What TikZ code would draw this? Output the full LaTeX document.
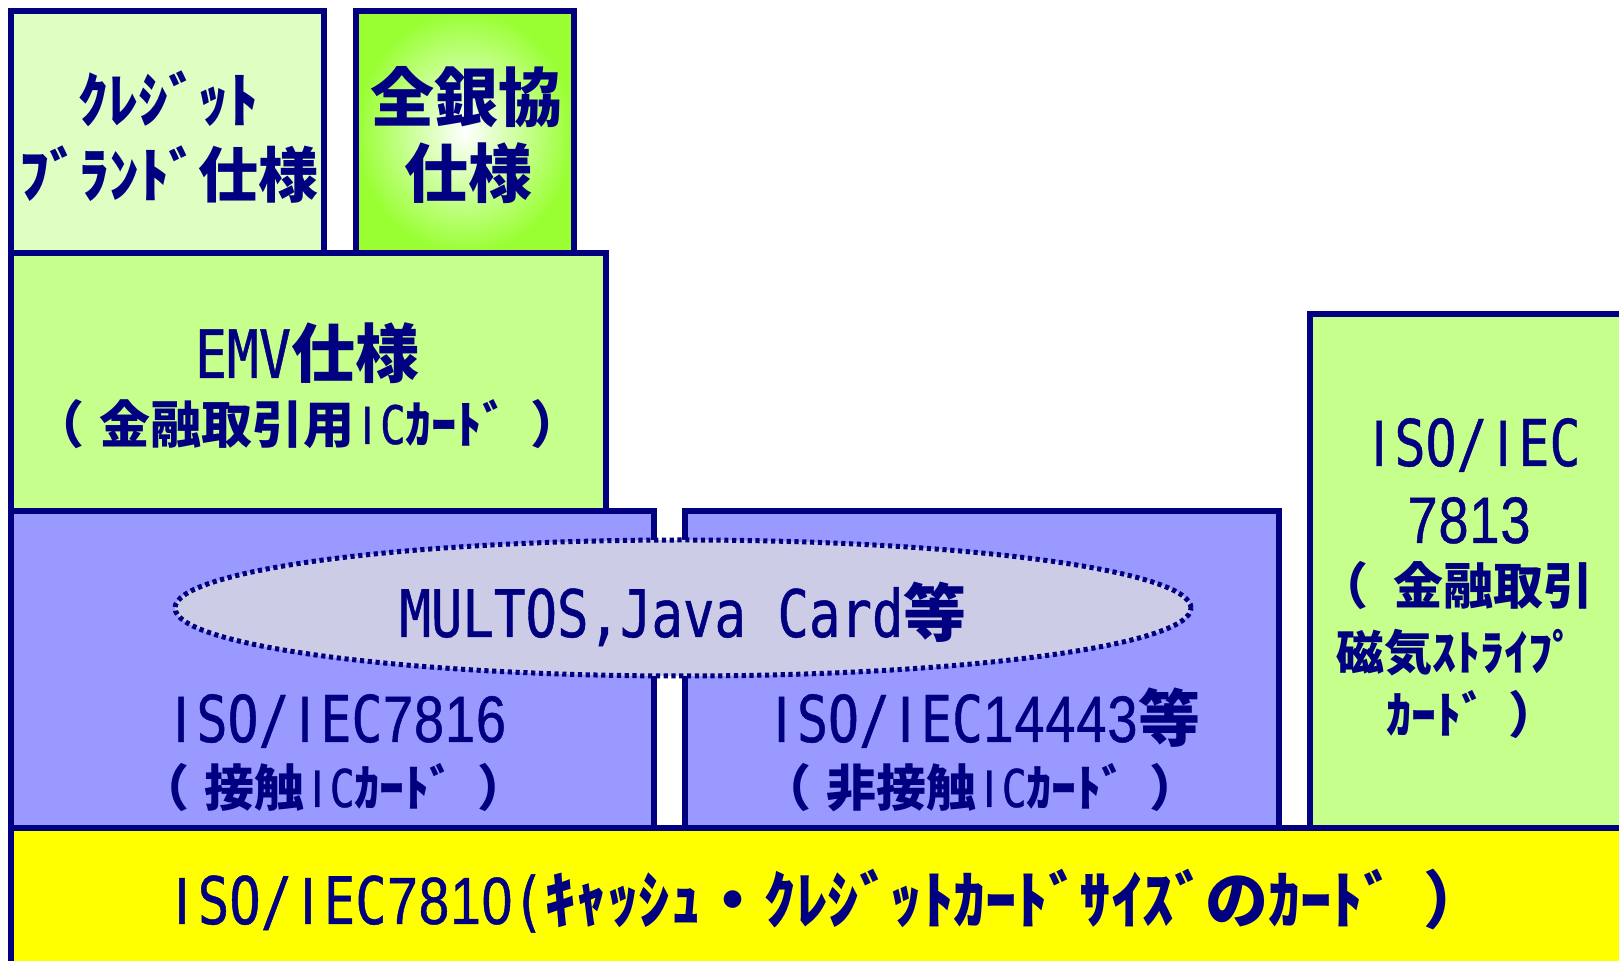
\documentclass[tikz,border=0pt]{standalone}
\usepackage{fontspec}
\setmainfont{Noto Sans CJK JP}
\newfontface\monofont{DejaVu Sans Mono}[FakeStretch=0.8,Scale=1.04,FakeBold=0.7]
\newfontface\digfont{Liberation Sans}[FakeStretch=0.82,Scale=1.06,FakeBold=0.7]
\usetikzlibrary{shapes.geometric,fit}
\definecolor{navy}{HTML}{000080}
\definecolor{credfill}{HTML}{DFFFC2}
\definecolor{zgreen}{HTML}{99FF33}
\definecolor{emvfill}{HTML}{C6FF8C}
\definecolor{bluefill}{HTML}{9999FF}
\definecolor{ellfill}{HTML}{CCCCE6}
\definecolor{yell}{HTML}{FFFF00}
\newlength\MOw
\def\MOend{MOEND}
\newcommand\MO[1]{{\setlength\MOw{0.5em}\MOloop#1\MOend}}
\def\MOloop#1{\ifx#1\MOend\else\MOcell{#1}\expandafter\MOloop\fi}
\newcommand\MOcell[1]{\makebox[\MOw][c]{\MOfont{#1}}}
\newcommand\MOfont[1]{\ifnum`#1<58 \ifnum`#1>47 {\digfont #1}\else{\monofont #1}\fi\else\if I#1{\digfont #1}\else{\monofont #1}\fi\fi}
\newcommand\LP{\makebox[0.75em][l]{\hspace{-0.55em}（}}
\newcommand\RP{\makebox[1em][r]{）\hspace{-0.45em}}}
\tikzset{
  box/.style={draw=navy, line width=2.8pt, inner sep=0pt, outer sep=0pt},
  ell/.style={ellipse, draw=navy, line width=2.5pt, dash pattern=on 2.1pt off 1.8pt, fill=ellfill, inner sep=0pt},
  tbase/.style={text=navy, inner sep=0pt, anchor=base},
  t32/.style={tbase, font=\fontsize{32}{38}\selectfont\bfseries},
  t30/.style={tbase, font=\fontsize{30}{36}\selectfont\bfseries},
  t31/.style={tbase, font=\fontsize{31}{37}\selectfont\bfseries},
  t31h/.style={tbase, font=\fontsize{31.5}{37}\selectfont\bfseries},
  t25h/.style={tbase, font=\fontsize{25.5}{30}\selectfont\bfseries},
  t25/.style={tbase, font=\fontsize{25}{30}\selectfont\bfseries},
  t24/.style={tbase, font=\fontsize{24}{29}\selectfont\bfseries},
}
\begin{document}
\begin{tikzpicture}[x=0.5pt,y=-0.5pt]
\useasboundingbox (0,0) rectangle (1619,961);
\fill[white] (0,0) rectangle (1619,961);
% boxes
\node[box, fill=credfill, fit={(11,11)(324,253)}] (credit) {};
\node[box, inner color=white, outer color=zgreen, fit={(356,11)(574,253)}] (zengin) {};
\node[box, fill=emvfill, fit={(11,253)(606,511)}] (emv) {};
\node[box, fill=bluefill, fit={(11,511)(654,828)}] (contact) {};
\node[box, fill=bluefill, fit={(685,511)(1279,828)}] (contactless) {};
\node[ell, minimum width=508pt, minimum height=68pt] (multos) at (683,608) {};
\node[box, fill=emvfill, fit={(1310,314)(1650,828)}] (magstripe) {};
\node[box, fill=yell, fit={(11,828)(1650,990)}] (cardsize) {};
% texts
\node[t30] (cr1) at (168,123) {ｸﾚｼﾞｯﾄ};
\node[t30] (cr2) at (169,198) {ﾌﾞﾗﾝﾄﾞ仕様};
\node[t32] (zg1) at (466,122) {全銀協};
\node[t32] (zg2) at (468,198) {仕様};
\node[t32] (emv1) at (307,378) {\MO{EMV}仕様};
\node[t25h] (emv2) at (310,444) {\LP 金融取引用\MO{IC}ｶｰﾄﾞ\RP};
\node[t31h] (mt) at (683,637) {\MO{MULTOS,Java}\hspace{0.5em}\MO{Card}等};
\node[t31] (ct1) at (336,742) {\MO{ISO/IEC7816}};
\node[t25] (ct2) at (336,807) {\LP 接触\MO{IC}ｶｰﾄﾞ\RP};
\node[t31] (cl1) at (983,742) {\MO{ISO/IEC14443}等};
\node[t25] (cl2) at (983,807) {\LP 非接触\MO{IC}ｶｰﾄﾞ\RP};
\node[t31] (ms1) at (1472,466) {\MO{ISO/IEC}};
\node[t31] (ms2) at (1469,543) {\MO{7813}};
\node[t25] (ms3) at (1470,605) {\LP\hspace{0.2em}金融取引};
\node[t24] (ms4) at (1456,671) {磁気ｽﾄﾗｲﾌﾟ};
\node[t25] (ms5) at (1461,734) {ｶｰﾄﾞ\RP};
\node[t31h] (cs) at (812,924) {\MO{ISO/IEC7810(}ｷｬｯｼｭ・ｸﾚｼﾞｯﾄｶｰﾄﾞｻｲｽﾞのｶｰﾄﾞ\RP};
\end{tikzpicture}
\end{document}
